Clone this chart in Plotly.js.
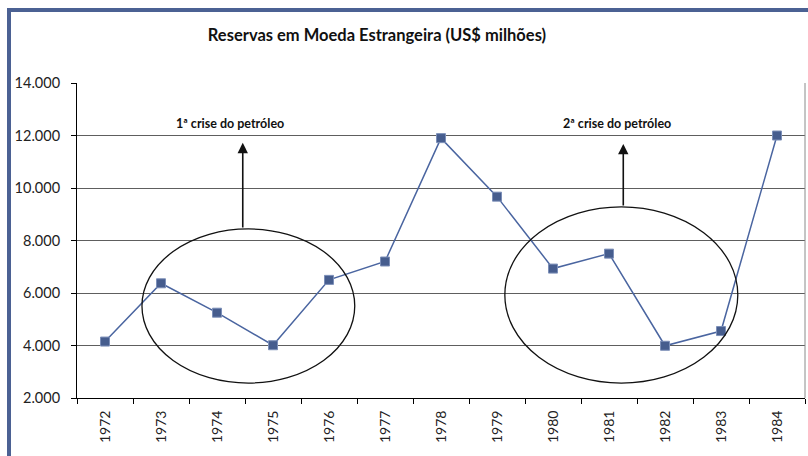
<!DOCTYPE html>
<html>
<head>
<meta charset="utf-8">
<script src="https://cdn.plot.ly/plotly-3.0.1.min.js"></script>
<style>
html,body{margin:0;padding:0;background:#fff;}
#wrap{position:relative;width:808px;height:456px;}
#chart{position:absolute;left:0;top:0;width:808px;height:456px;}
#frameL{position:absolute;left:7px;top:8px;width:4px;height:448px;background:#4b6193;pointer-events:none;}
#frameT{position:absolute;left:7px;top:8px;width:801px;height:4px;background:#4b6193;pointer-events:none;}
</style>
</head>
<body>
<div id="wrap">
<div id="chart"></div>
<div id="frameL"></div>
<div id="frameT"></div>
</div>
<script>
const years = ['1972','1973','1974','1975','1976','1977','1978','1979','1980','1981','1982','1983','1984'];
const reserves = [4150, 6370, 5250, 4010, 6500, 7200, 11900, 9670, 6930, 7500, 3990, 4550, 12000];
const yTickVals = [2000, 4000, 6000, 8000, 10000, 12000, 14000];
const yTickText = ['2.000', '4.000', '6.000', '8.000', '10.000', '12.000', '14.000'];
const crisisLabels = ['1ª crise do petróleo', '2ª crise do petróleo'];

const font = 'Lato, "Open Sans", "DejaVu Sans", sans-serif';

const trace = {
  x: years,
  y: reserves,
  type: 'scatter',
  mode: 'lines+markers',
  line: {color: '#4a65a0', width: 1.5},
  marker: {symbol: 'square', size: 9, color: '#465d8e', line: {color: '#7c8fb8', width: 1}},
  showlegend: false,
  hoverinfo: 'x+y'
};

const layout = {
  width: 808, height: 456,
  margin: {l: 77, r: 3, t: 83, b: 58},
  paper_bgcolor: '#ffffff',
  plot_bgcolor: '#ffffff',
  font: {family: font, color: '#222'},
  title: {
    text: '<b>Reservas em Moeda Estrangeira (US$ milhões)</b>',
    font: {family: font, size: 16.5, color: '#111'},
    xref: 'paper', x: 0.412, xanchor: 'center',
    yref: 'container', y: 1 - 35/456, yanchor: 'middle'
  },
  xaxis: {
    type: 'category',
    range: [-0.5, 12.5],
    tickson: 'boundaries',
    ticks: 'outside', ticklen: 5, tickcolor: '#000', tickwidth: 1,
    tickangle: -90,
    ticklabelstandoff: 6,
    tickfont: {family: font, size: 14, color: '#222'},
    showline: true, linecolor: '#000', linewidth: 1,
    showgrid: false, zeroline: false
  },
  yaxis: {
    range: [2000, 14000],
    tickvals: yTickVals,
    ticktext: yTickText,
    ticks: 'outside', ticklen: 5, tickcolor: '#000', tickwidth: 1,
    ticklabelstandoff: 8,
    tickfont: {family: font, size: 14.5, color: '#222'},
    showline: true, linecolor: '#000', linewidth: 1,
    showgrid: true, gridcolor: '#5e5e5e', gridwidth: 1,
    zeroline: false
  },
  shapes: [
    {type: 'line', xref: 'paper', yref: 'paper', x0: 1, x1: 1, y0: 0, y1: 1,
     line: {color: '#8a8a8a', width: 1}},
    {type: 'circle', xref: 'x', yref: 'y', x0: 0.66, x1: 4.46, y0: 2570, y1: 8440,
     line: {color: '#111', width: 1.3}},
    {type: 'circle', xref: 'x', yref: 'y', x0: 7.14, x1: 11.30, y0: 2570, y1: 9280,
     line: {color: '#111', width: 1.3}}
  ],
  annotations: [
    {x: 2.23, y: 12440, xref: 'x', yref: 'y', text: '<b>' + crisisLabels[0] + '</b>',
     showarrow: false, font: {family: font, size: 12.5, color: '#111'}},
    {x: 9.15, y: 12440, xref: 'x', yref: 'y', text: '<b>' + crisisLabels[1] + '</b>',
     showarrow: false, font: {family: font, size: 12.5, color: '#111'}},
    {x: 2.46, y: 11720, ax: 2.46, ay: 8440, xref: 'x', yref: 'y', axref: 'x', ayref: 'y',
     text: '', showarrow: true, arrowhead: 2, arrowsize: 1.3, arrowwidth: 1.6, arrowcolor: '#111'},
    {x: 9.255, y: 11680, ax: 9.255, ay: 9280, xref: 'x', yref: 'y', axref: 'x', ayref: 'y',
     text: '', showarrow: true, arrowhead: 2, arrowsize: 1.3, arrowwidth: 1.6, arrowcolor: '#111'}
  ]
};

Plotly.newPlot('chart', [trace], layout, {displayModeBar: false, staticPlot: true});
</script>
</body>
</html>
